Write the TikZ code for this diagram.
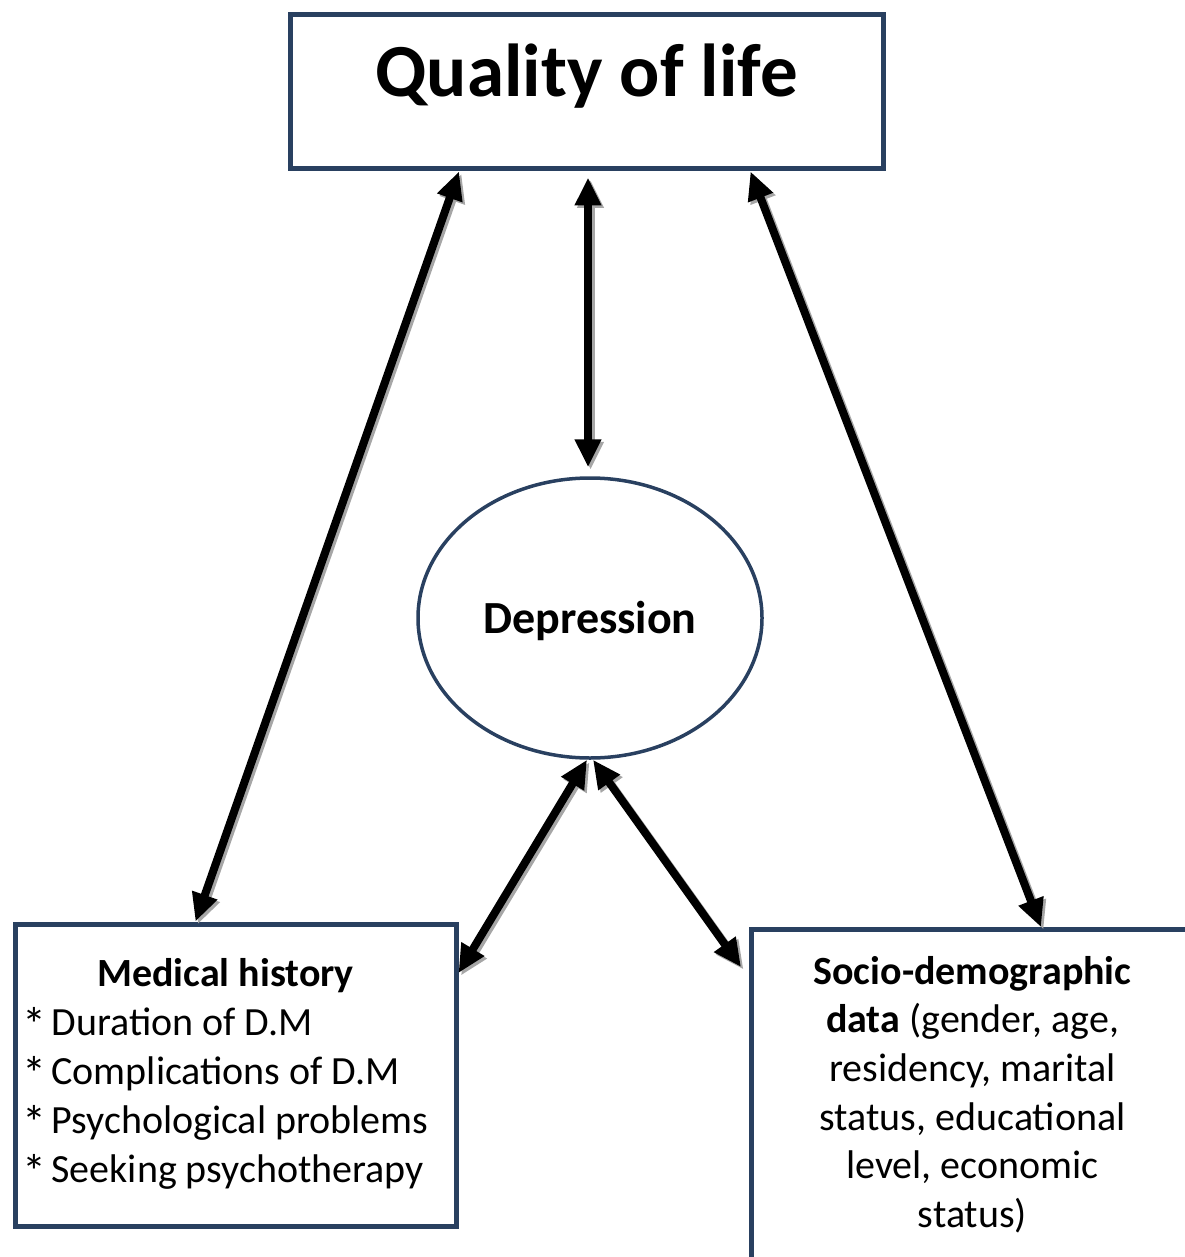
\documentclass[tikz,border=0pt]{standalone}
\usepackage{fontspec}
\setmainfont{Carlito}
\usetikzlibrary{arrows.meta,positioning,shapes.geometric}

\definecolor{boxblue}{RGB}{41,64,96}
\newcommand{\bulletstar}{\makebox[0pt][l]{\raisebox{-6pt}{\fontsize{48}{49}\selectfont *}}\phantom{*}}

\begin{document}
\begin{tikzpicture}[x=1pt,y=-1pt,
  box/.style={draw=boxblue,line width=5pt,inner sep=0pt},
  link/.style={line width=8pt,{Triangle[length=28pt,width=25pt]}-{Triangle[length=28pt,width=25pt]}}]
\useasboundingbox (0,0) rectangle (1184,1257);
\node[box,minimum width=593pt,text height=82pt,text depth=72pt,font=\fontsize{75}{90}\selectfont\bfseries] (qol) at (586.5,92) {Quality of life};
\node[box,line width=3.5pt,ellipse,minimum width=344pt,minimum height=280pt,text height=30pt,text depth=0pt,font=\fontsize{46}{54}\selectfont\bfseries] (dep) at (590,618) {Depression};
\node[box,minimum width=441pt,minimum height=302pt,font=\fontsize{40}{49}\selectfont] (med) at (235.5,1075) {\begin{tabular}{@{}l@{\hspace{20pt}}}
  \multicolumn{1}{@{}c@{\hspace{20pt}}}{\textbf{Medical history}}\\
  \bulletstar\ Duration of D.M\\
  \bulletstar\ Complications of D.M\\
  \bulletstar\ Psychological problems\\
  \bulletstar\ Seeking psychotherapy
\end{tabular}};
\node[box,anchor=north west,minimum width=442pt,minimum height=330pt,align=center,font=\fontsize{40}{48.6}\selectfont] (socio) at (749,927) {\textbf{Socio-demographic}\\ \textbf{data} (gender, age,\\ residency, marital\\ status, educational\\ level, economic\\ status)};
% two-way links, grey shadow pass first
\foreach \col/\dx/\dy in {black!35/2.5/-2.5, black/0/0}{
  \begin{scope}[transform canvas={shift={(\dx pt,\dy pt)}},color=\col]
    \draw[link] ([xshift=-127.5pt]qol.south) -- ([xshift=-40pt]med.north);
    \draw[link] ([shift={(1.5pt,-6pt)}]qol.south) -- ([shift={(-2pt,9pt)}]dep.north);
    \draw[link] ([xshift=164pt]qol.south) -- ([xshift=292pt]socio.north west);
    \draw[link] ([xshift=-3pt]dep.south) -- ([yshift=102pt]med.east);
    \draw[link] ([xshift=3pt]dep.south) -- ([shift={(-8pt,-40pt)}]socio.north west);
  \end{scope}
}
\end{tikzpicture}
\end{document}
